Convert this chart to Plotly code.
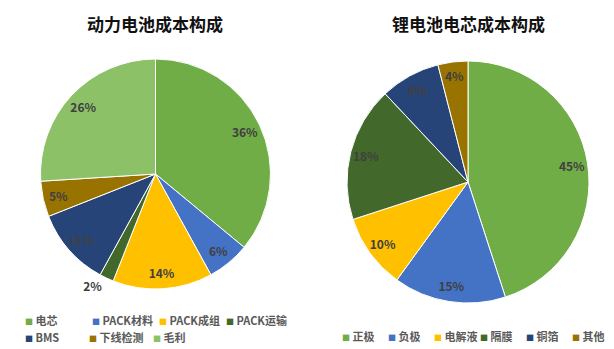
import plotly.graph_objects as go

# ---------------- data ----------------
left_title = "动力电池成本构成"
left_labels = ["电芯", "PACK材料", "PACK成组", "PACK运输", "BMS", "下线检测", "毛利"]
left_values = [36, 6, 14, 2, 11, 5, 26]
left_colors = ["#70AD47", "#4472C4", "#FFC000", "#43682B", "#264478", "#997300", "#8CC168"]

right_title = "锂电池电芯成本构成"
right_labels = ["正极", "负极", "电解液", "隔膜", "铜箔", "其他"]
right_values = [45, 15, 10, 18, 8, 4]
right_colors = ["#70AD47", "#4472C4", "#FFC000", "#43682B", "#264478", "#997300"]

FONT = "Noto Sans CJK SC"
W, H = 614, 349
MB = 40            # bottom margin: legends sit below the plot area
HP = H - MB        # plot-area height


def px_x(px):
    return px / W


def px_y(py):
    # py measured from the top of the figure
    return (HP - py) / HP


fig = go.Figure()

left_dom = dict(x=[px_x(40.5), px_x(270.5)], y=[px_y(289), px_y(59)])
right_dom = dict(x=[px_x(347), px_x(589)], y=[px_y(303), px_y(61)])


def add_pie(labels, values, colors, dom, hole, small_outside):
    fig.add_trace(go.Pie(
        labels=labels, values=values, sort=False, direction="clockwise", rotation=0,
        marker=dict(colors=colors, line=dict(color="white", width=1)),
        textinfo="none", showlegend=False, hoverinfo="skip", domain=dom,
    ))
    positions = ["outside" if v <= small_outside else "inside" for v in values]
    fig.add_trace(go.Pie(
        labels=labels, values=values, sort=False, direction="clockwise", rotation=0,
        hole=hole,
        marker=dict(colors=["rgba(0,0,0,0)"] * len(values), line=dict(width=0)),
        texttemplate="%{percent:.0%}", textposition=positions,
        insidetextorientation="horizontal",
        textfont=dict(family=FONT, size=12, color="#404040", weight="bold"),
        showlegend=False, hoverinfo="skip", domain=dom,
    ))


add_pie(left_labels, left_values, left_colors, left_dom, 0.72, 2)
add_pie(right_labels, right_values, right_colors, right_dom, 0.74, 0)


def add_legend_items(labels, colors, legend_id):
    for lab, col in zip(labels, colors):
        fig.add_trace(go.Scatter(
            x=[None], y=[None], mode="markers",
            marker=dict(size=1, color="rgba(0,0,0,0)"),
            name=f'<span style="color:{col};font-size:8px">■</span> {lab}',
            legend=legend_id, showlegend=True, hoverinfo="skip",
        ))
    # trailing spacer so the last entry's text is not clipped
    fig.add_trace(go.Scatter(
        x=[None], y=[None], mode="markers",
        marker=dict(size=1, color="rgba(0,0,0,0)"),
        name=" ", legend=legend_id, showlegend=True, hoverinfo="skip",
    ))


add_legend_items(left_labels[:4], left_colors[:4], "legend")
add_legend_items(left_labels[4:], left_colors[4:], "legend2")
add_legend_items(right_labels, right_colors, "legend3")

leg_common = dict(
    orientation="h", entrywidthmode="pixels", xanchor="left", yanchor="middle",
    bgcolor="rgba(0,0,0,0)", borderwidth=0,
    font=dict(family=FONT, size=11, color="#595959", weight="bold"),
    itemclick=False, itemdoubleclick=False,
)

fig.update_layout(
    width=W, height=H,
    margin=dict(l=0, r=0, t=0, b=MB, autoexpand=False),
    paper_bgcolor="white", plot_bgcolor="white",
    xaxis=dict(visible=False), yaxis=dict(visible=False),
    legend=dict(**leg_common, x=px_x(-15), y=px_y(321), entrywidth=22),
    legend2=dict(**leg_common, x=px_x(-15), y=px_y(338), entrywidth=19),
    legend3=dict(**leg_common, x=px_x(302), y=px_y(337), entrywidth=1),
    uniformtext=dict(minsize=12, mode="show"),
    annotations=[
        dict(text=left_title, x=px_x(155), y=px_y(24), xref="paper", yref="paper",
             showarrow=False, xanchor="center", yanchor="middle",
             font=dict(family=FONT, size=17, color="#111111", weight="bold")),
        dict(text=right_title, x=px_x(468), y=px_y(24), xref="paper", yref="paper",
             showarrow=False, xanchor="center", yanchor="middle",
             font=dict(family=FONT, size=17, color="#111111", weight="bold")),
    ],
)

fig.write_html("out.html")
